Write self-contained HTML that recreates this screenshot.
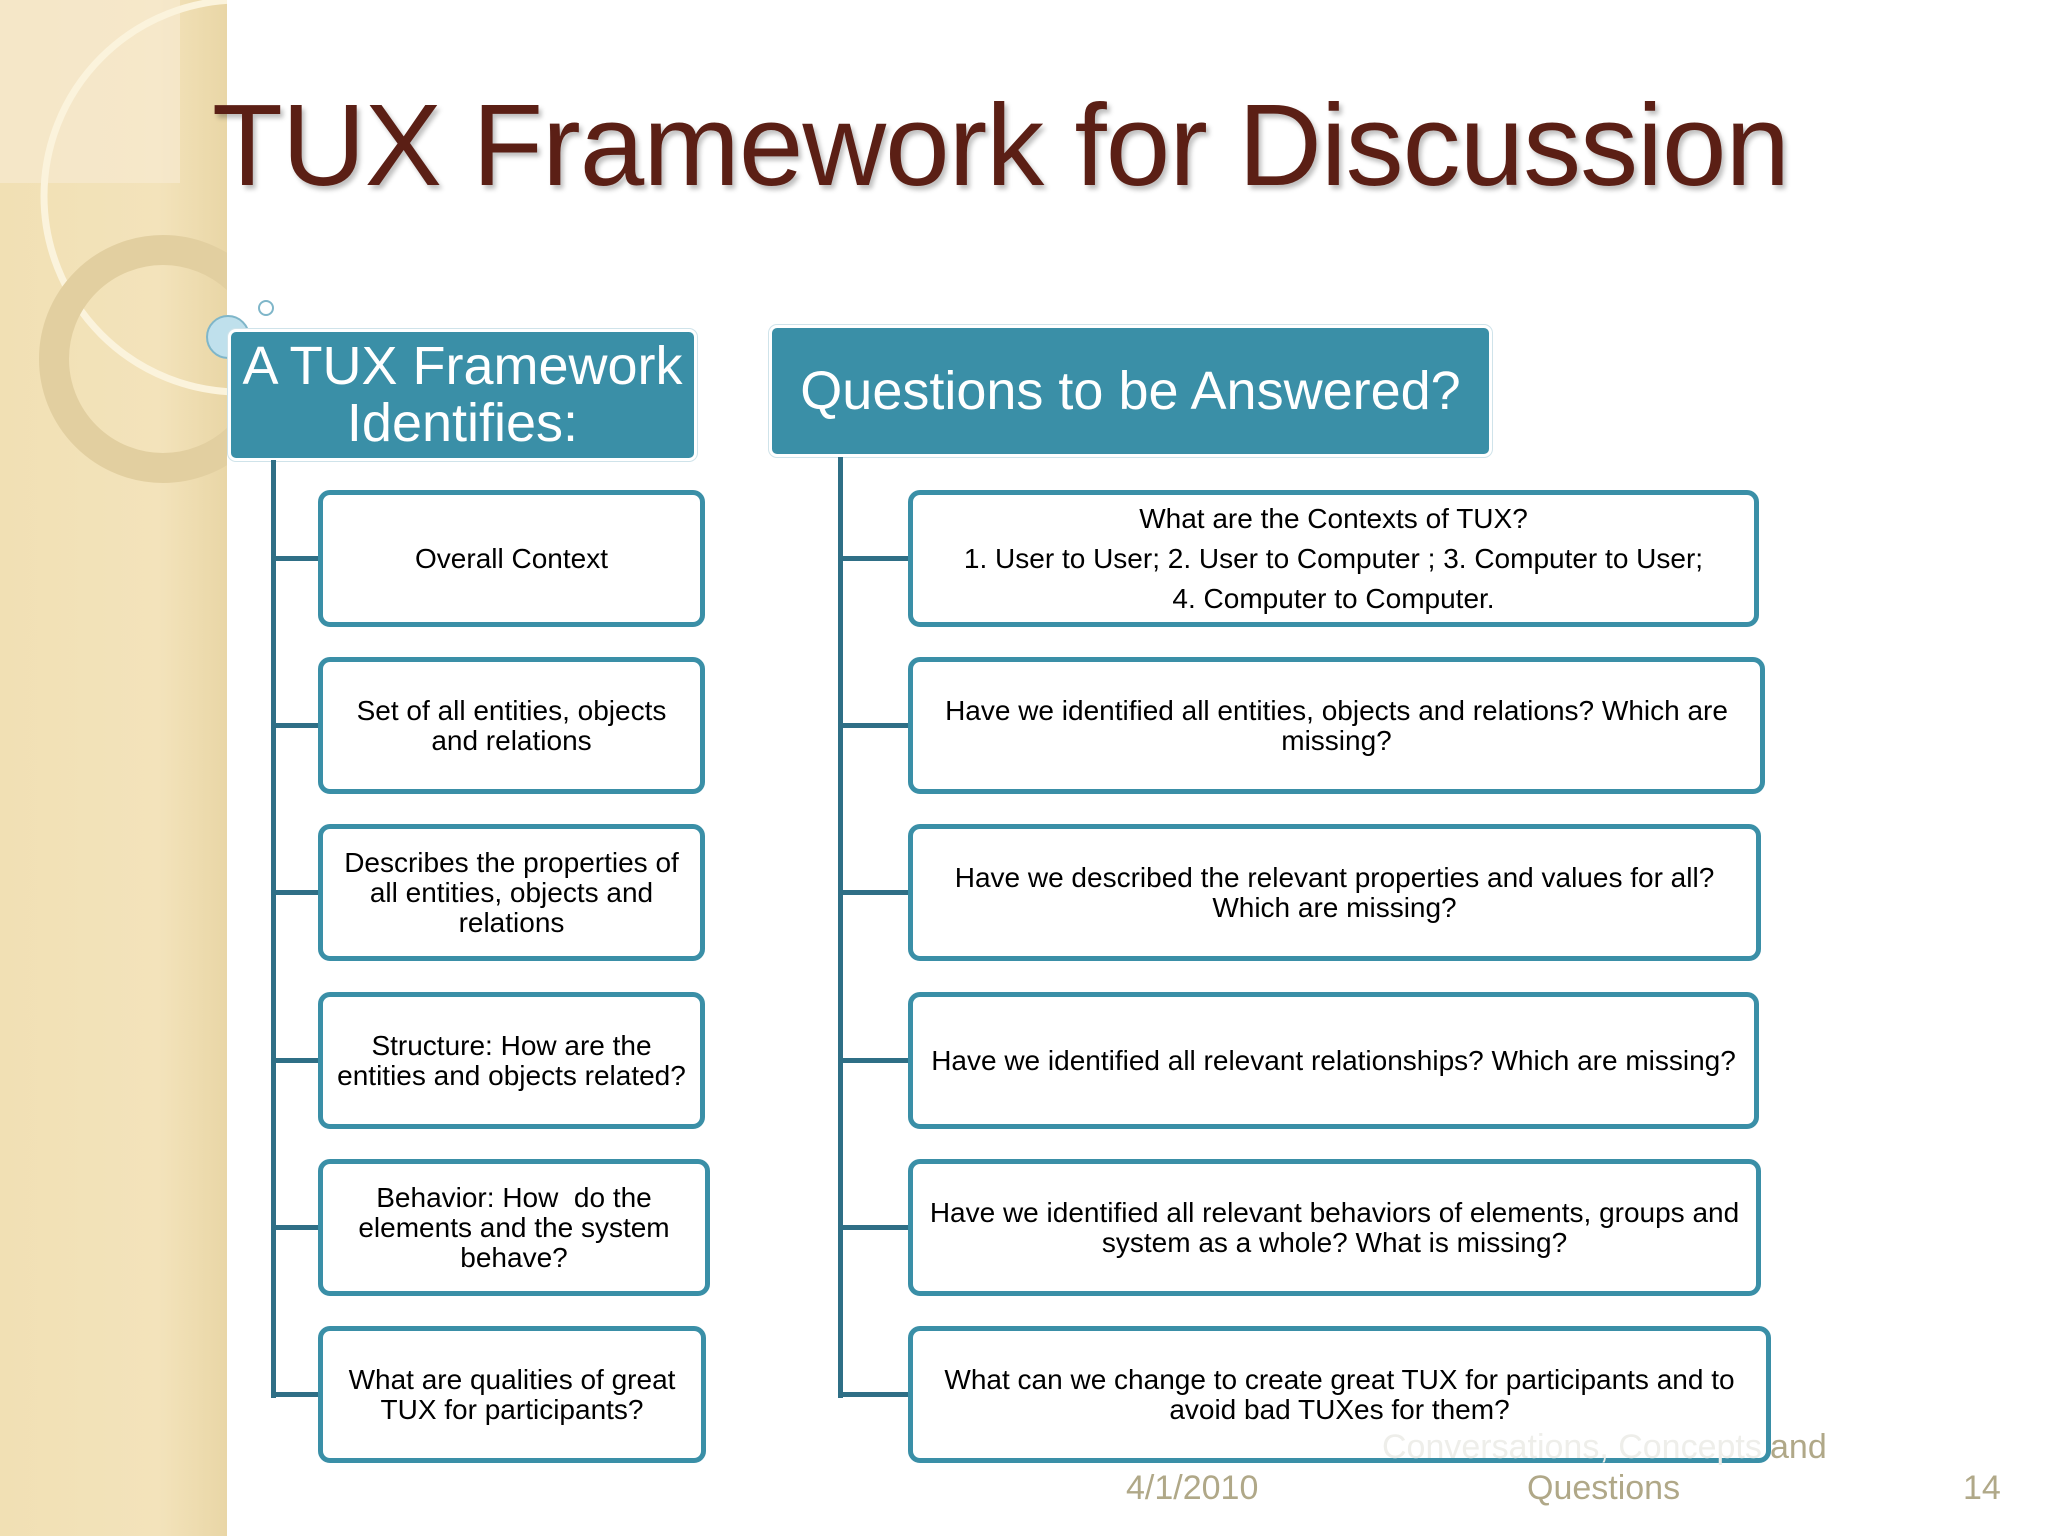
<!DOCTYPE html>
<html><head><meta charset="utf-8"><style>
*{margin:0;padding:0;box-sizing:border-box}
body{width:2048px;height:1536px;position:relative;background:#fff;font-family:"Liberation Sans",sans-serif;overflow:hidden}
.strip{position:absolute;left:0;top:0;width:227px;height:1536px;background:linear-gradient(90deg,#f1e0b4,#f3e3bb 70%,#e9d6a6);}
.title{position:absolute;left:212px;top:78px;font-size:116px;color:#5b1f15;white-space:nowrap;text-shadow:3px 4px 5px rgba(0,0,0,.25);letter-spacing:-1px}
.hdr{position:absolute;background:#3a8fa7;color:#fff;border-radius:8px;text-align:center;font-size:54px;line-height:57px;display:flex;align-items:center;justify-content:center;border:3px solid #fff;box-shadow:0 0 0 1px #cfe3ea;white-space:nowrap}
.vl{position:absolute;width:5px;background:#2f6f86}
.hl{position:absolute;height:5px;background:#2f6f86}
.box{position:absolute;border:5px solid #3a8fa7;border-radius:12px;background:#fff;display:flex;align-items:center;justify-content:center;text-align:center;font-size:28px;line-height:30px;color:#000;padding:0 8px}
.ft{position:absolute;font-size:34px;color:#b0a888;white-space:nowrap}
</style></head><body>
<div class="strip"></div>
<svg style="position:absolute;left:0;top:0" width="227" height="520">
<rect x="0" y="0" width="180" height="183" fill="#f6ead0" opacity=".7"/>
<circle cx="240" cy="196" r="196" fill="none" stroke="#fbf3dc" stroke-width="7"/>
<circle cx="163" cy="359" r="109" fill="none" stroke="#e2cfa0" stroke-width="30"/>
</svg>
<svg style="position:absolute;left:200px;top:295px" width="80" height="70">
<circle cx="28" cy="42" r="21" fill="#bfe0ec" stroke="#7fb6c9" stroke-width="2"/>
<circle cx="66" cy="13" r="7" fill="none" stroke="#7fb6c9" stroke-width="2"/>
</svg>
<div class="title">TUX Framework for Discussion</div>
<div class="hdr" style="left:228px;top:329px;width:469px;height:132px">A TUX Framework<br>Identifies:</div>
<div class="hdr" style="left:769px;top:325px;width:723px;height:132px">Questions to be Answered?</div>
<div class="vl" style="left:271px;top:460px;height:938px"></div>
<div class="vl" style="left:838px;top:457px;height:941px"></div>

<div class="hl" style="left:271px;top:556px;width:52px"></div>
<div class="hl" style="left:271px;top:723px;width:52px"></div>
<div class="hl" style="left:271px;top:890px;width:52px"></div>
<div class="hl" style="left:271px;top:1058px;width:52px"></div>
<div class="hl" style="left:271px;top:1225px;width:52px"></div>
<div class="hl" style="left:271px;top:1392px;width:52px"></div>

<div class="hl" style="left:838px;top:556px;width:74px"></div>
<div class="hl" style="left:838px;top:723px;width:74px"></div>
<div class="hl" style="left:838px;top:890px;width:74px"></div>
<div class="hl" style="left:838px;top:1058px;width:74px"></div>
<div class="hl" style="left:838px;top:1225px;width:74px"></div>
<div class="hl" style="left:838px;top:1392px;width:74px"></div>

<div class="box" style="left:318px;top:490px;width:387px;height:137px">Overall Context</div>
<div class="box" style="left:318px;top:657px;width:387px;height:137px">Set of all entities, objects<br>and relations</div>
<div class="box" style="left:318px;top:824px;width:387px;height:137px">Describes the properties of<br>all entities, objects and<br>relations</div>
<div class="box" style="left:318px;top:992px;width:387px;height:137px">Structure: How are the<br>entities and objects related?</div>
<div class="box" style="left:318px;top:1159px;width:392px;height:137px">Behavior: How &nbsp;do the<br>elements and the system<br>behave?</div>
<div class="box" style="left:318px;top:1326px;width:388px;height:137px">What are qualities of great<br>TUX for participants?</div>

<div class="box" style="left:908px;top:490px;width:851px;height:137px;line-height:40px">What are the Contexts of TUX?<br>1. User to User; 2. User to Computer ; 3. Computer to User;<br>4. Computer to Computer.</div>
<div class="box" style="left:908px;top:657px;width:857px;height:137px">Have we identified all entities, objects and relations? Which are<br>missing?</div>
<div class="box" style="left:908px;top:824px;width:853px;height:137px">Have we described the relevant properties and values for all?<br>Which are missing?</div>
<div class="box" style="left:908px;top:992px;width:851px;height:137px">Have we identified all relevant relationships? Which are missing?</div>
<div class="box" style="left:908px;top:1159px;width:853px;height:137px">Have we identified all relevant behaviors of elements, groups and<br>system as a whole? What is missing?</div>
<div class="box" style="left:908px;top:1326px;width:863px;height:137px">What can we change to create great TUX for participants and to<br>avoid bad TUXes for them?</div>

<div class="ft" style="left:1382px;top:1428px;color:#eeeeea">Conversations, Concepts</div>
<div class="ft" style="left:1770px;top:1428px">and</div>
<div class="ft" style="left:1126px;top:1469px">4/1/2010</div>
<div class="ft" style="left:1527px;top:1469px">Questions</div>
<div class="ft" style="left:1963px;top:1469px">14</div>
</body></html>
